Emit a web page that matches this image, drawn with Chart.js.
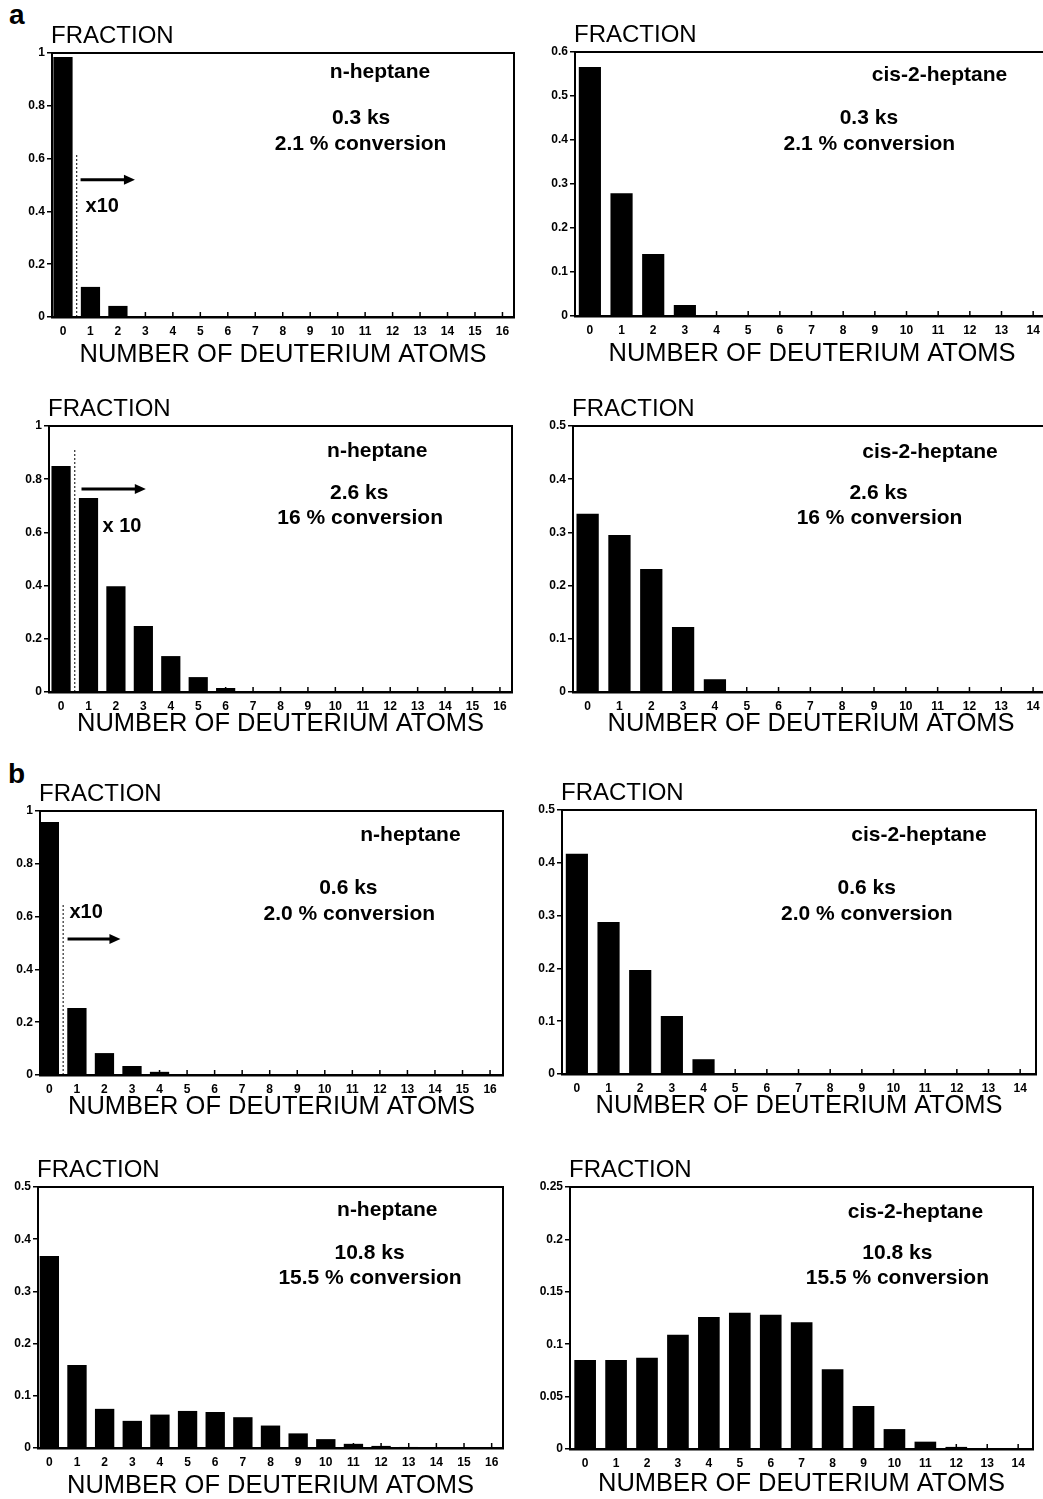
<!DOCTYPE html>
<html>
<head>
<meta charset="utf-8">
<script src="https://cdn.jsdelivr.net/npm/chart.js@4.4.1/dist/chart.umd.min.js"></script>
<style>
html, body { margin:0; padding:0; background:#fff; overflow:hidden; width:1043px; height:1499px; position:relative; }
canvas { position:absolute; }
.lbl { position:absolute; font:bold 28px "Liberation Sans", Arial, sans-serif; color:#000; line-height:28px; }
</style>
</head>
<body>
<div class="lbl" style="left:9px;top:1px">a</div>
<div class="lbl" style="left:8px;top:760px">b</div>
<script>
// ---------- data ----------
const atoms16 = ['0','1','2','3','4','5','6','7','8','9','10','11','12','13','14','15','16'];
const atoms14 = ['0','1','2','3','4','5','6','7','8','9','10','11','12','13','14'];

const aNHeptane03 = [0.985, 0.114, 0.042, 0, 0, 0, 0, 0, 0, 0, 0, 0, 0, 0, 0, 0, 0];
const aCis03      = [0.566, 0.279, 0.141, 0.025, 0, 0, 0, 0, 0, 0, 0, 0, 0, 0, 0];
const aNHeptane26 = [0.850, 0.729, 0.398, 0.248, 0.135, 0.056, 0.015, 0.002, 0, 0, 0, 0, 0, 0, 0, 0, 0];
const aCis26      = [0.335, 0.295, 0.231, 0.122, 0.024, 0, 0, 0, 0, 0, 0, 0, 0, 0, 0];
const bNHeptane06 = [0.958, 0.254, 0.083, 0.034, 0.012, 0, 0, 0, 0, 0, 0, 0, 0, 0, 0, 0, 0];
const bCis06      = [0.417, 0.288, 0.197, 0.110, 0.028, 0, 0, 0, 0, 0, 0, 0, 0, 0, 0];
const bNHeptane108 = [0.368, 0.159, 0.075, 0.052, 0.064, 0.071, 0.069, 0.059, 0.043, 0.028, 0.017, 0.008, 0.004, 0.002, 0, 0, 0];
const bCis108     = [0.085, 0.085, 0.087, 0.109, 0.126, 0.130, 0.128, 0.121, 0.076, 0.041, 0.019, 0.007, 0.002, 0.0005, 0];

const yMaxes = [1, 0.6, 1, 0.5, 1, 0.5, 0.5, 0.25];
const ySteps = [0.2, 0.1, 0.2, 0.1, 0.2, 0.1, 0.1, 0.05];

const compounds   = ['n-heptane', 'cis-2-heptane', 'n-heptane', 'cis-2-heptane', 'n-heptane', 'cis-2-heptane', 'n-heptane', 'cis-2-heptane'];
const times       = ['0.3 ks', '0.3 ks', '2.6 ks', '2.6 ks', '0.6 ks', '0.6 ks', '10.8 ks', '10.8 ks'];
const conversions = ['2.1 % conversion', '2.1 % conversion', '16 % conversion', '16 % conversion',
                     '2.0 % conversion', '2.0 % conversion', '15.5 % conversion', '15.5 % conversion'];
const scaleNotes  = ['x10', null, 'x 10', null, 'x10', null, null, null];

const yTitle = 'FRACTION';
const xTitle = 'NUMBER OF DEUTERIUM ATOMS';

// ---------- layout (pixels / fractions, not data) ----------
const FONT = '"Liberation Sans", Arial, Helvetica, sans-serif';
const YW = 50, PT = 40, XH = 62, PR = 6;

const layout = [
  { L:52,  T:53,  R:513.5, B:317, xMin:-0.40, xMax:16.42, tOff:38,
    txt:[[0.71,0.072],[0.669,0.246],[0.668,0.345]],
    mark:{ line:[0.5,0.62], arrow:[0.64,2.62,0.52], note:[0.82,0.418] } },
  { L:575, T:52,  R:1049,  B:316, xMin:-0.47, xMax:14.5, tOff:38,
    txt:[[0.769,0.087],[0.62,0.25],[0.621,0.348]] },
  { L:49,  T:426, R:512,   B:692, xMin:-0.44, xMax:16.44, tOff:32,
    txt:[[0.709,0.094],[0.67,0.252],[0.672,0.346]],
    mark:{ line:[0.5,0.91], arrow:[0.745,3.09,0.763], note:[1.51,0.624] } },
  { L:573, T:426, R:1049,  B:692, xMin:-0.46, xMax:14.5, tOff:32,
    txt:[[0.75,0.098],[0.642,0.252],[0.644,0.346]] },
  { L:40,  T:811, R:503,   B:1075, xMin:-0.34, xMax:16.47, tOff:32,
    txt:[[0.80,0.091],[0.666,0.292],[0.668,0.39]],
    mark:{ line:[0.5,0.65], arrow:[0.66,2.58,0.515], note:[0.73,0.617] } },
  { L:562, T:810, R:1036,  B:1074, xMin:-0.47, xMax:14.5, tOff:32,
    txt:[[0.753,0.095],[0.643,0.295],[0.643,0.394]] },
  { L:38,  T:1187, R:503,  B:1448, xMin:-0.41, xMax:16.41, tOff:38,
    txt:[[0.751,0.088],[0.713,0.253],[0.714,0.349]] },
  { L:569.5, T:1187, R:1032, B:1449, xMin:-0.49, xMax:14.48, tOff:35,
    txt:[[0.746,0.095],[0.707,0.252],[0.707,0.347]] }
];

const seriesList = [aNHeptane03, aCis03, aNHeptane26, aCis26, bNHeptane06, bCis06, bNHeptane108, bCis108];
const catList = [atoms16, atoms14, atoms16, atoms14, atoms16, atoms14, atoms16, atoms14];

// ---------- decoration plugin ----------
const decor = {
  id: 'decor',
  afterDatasetsDraw(chart, args, o) {
    const { ctx, chartArea: a, scales: { x, y } } = chart;
    const w = a.right - a.left, h = a.bottom - a.top;
    ctx.save();
    ctx.strokeStyle = '#000';
    ctx.fillStyle = '#000';
    // frame top and right
    ctx.lineWidth = 2;
    ctx.beginPath();
    ctx.moveTo(a.left, a.top);
    ctx.lineTo(a.right, a.top);
    ctx.lineTo(a.right, a.bottom);
    ctx.stroke();
    // inner x tick marks
    ctx.lineWidth = 1.5;
    x.ticks.forEach(t => {
      const px = x.getPixelForValue(t.value);
      ctx.beginPath();
      ctx.moveTo(px, a.bottom);
      ctx.lineTo(px, a.bottom - 5);
      ctx.stroke();
    });
    // y title
    ctx.font = '24px ' + FONT;
    ctx.textAlign = 'left';
    ctx.textBaseline = 'middle';
    ctx.fillText(o.yTitle, a.left - 1, a.top - 17);
    // inner labels
    ctx.font = 'bold 21px ' + FONT;
    ctx.textAlign = 'center';
    o.texts.forEach((s, i) => {
      const p = o.pos[i];
      ctx.fillText(s, a.left + p[0] * w, a.top + p[1] * h);
    });
    // x10 marker
    if (o.mark) {
      const m = o.mark;
      const lx = x.getPixelForValue(m.line[0]);
      ctx.lineWidth = 1;
      ctx.setLineDash([2, 2]);
      ctx.beginPath();
      ctx.moveTo(lx, y.getPixelForValue(0));
      ctx.lineTo(lx, y.getPixelForValue(m.line[1]));
      ctx.stroke();
      ctx.setLineDash([]);
      const ax0 = x.getPixelForValue(m.arrow[0]);
      const ax1 = x.getPixelForValue(m.arrow[1]);
      const ay = y.getPixelForValue(m.arrow[2]);
      ctx.lineWidth = 3;
      ctx.beginPath();
      ctx.moveTo(ax0, ay);
      ctx.lineTo(ax1 - 8, ay);
      ctx.stroke();
      ctx.beginPath();
      ctx.moveTo(ax1, ay);
      ctx.lineTo(ax1 - 11, ay - 5);
      ctx.lineTo(ax1 - 11, ay + 5);
      ctx.closePath();
      ctx.fill();
      ctx.font = 'bold 20px ' + FONT;
      ctx.textAlign = 'left';
      ctx.fillText(o.note, x.getPixelForValue(m.note[0]), y.getPixelForValue(m.note[1]));
    }
    ctx.restore();
  }
};

// ---------- build charts ----------
layout.forEach((p, k) => {
  const cv = document.createElement('canvas');
  const cw = Math.round(p.R - p.L + YW + PR);
  const ch = Math.round(p.B - p.T + PT + XH);
  cv.width = cw; cv.height = ch;
  cv.style.width = cw + 'px'; cv.style.height = ch + 'px';
  cv.style.left = (p.L - YW) + 'px';
  cv.style.top = (p.T - PT) + 'px';
  document.body.appendChild(cv);

  const cats = catList[k];
  const vals = seriesList[k];

  new Chart(cv, {
    type: 'bar',
    data: {
      datasets: [{
        data: vals.map((v, i) => ({ x: i, y: v })),
        backgroundColor: '#000',
        borderWidth: 0,
        barPercentage: 0.7,
        categoryPercentage: 1
      }]
    },
    plugins: [decor],
    options: {
      responsive: false,
      animation: false,
      devicePixelRatio: 1,
      layout: { padding: { top: PT, right: PR, left: 0, bottom: 0 } },
      plugins: {
        legend: { display: false },
        tooltip: { enabled: false },
        decor: {
          yTitle: yTitle,
          texts: [compounds[k], times[k], conversions[k]],
          pos: p.txt,
          mark: p.mark,
          note: scaleNotes[k]
        }
      },
      scales: {
        x: {
          type: 'linear',
          offset: false,
          min: p.xMin,
          max: p.xMax,
          afterFit: s => { s.height = XH; },
          afterBuildTicks: s => { s.ticks = cats.map((c, i) => ({ value: i })); },
          grid: { display: false, drawTicks: false, offset: false },
          border: { display: true, color: '#000', width: 2.5 },
          ticks: {
            stepSize: 1,
            includeBounds: false,
            autoSkip: false,
            maxRotation: 0,
            padding: 7,
            color: '#000',
            font: { family: FONT, size: 12, weight: 'bold' },
            callback: v => (cats[Math.round(v)] !== undefined ? cats[Math.round(v)] : '')
          },
          title: {
            display: true,
            text: xTitle,
            color: '#000',
            font: { family: FONT, size: 25.5, weight: 'normal', lineHeight: 1.2 },
            padding: { top: 0, bottom: XH - 15 - p.tOff }
          }
        },
        y: {
          min: 0,
          max: yMaxes[k],
          afterFit: s => { s.width = YW; },
          grid: { display: true, drawOnChartArea: false, drawTicks: true, tickLength: 5, color: '#000', lineWidth: 1.5 },
          border: { display: true, color: '#000', width: 2 },
          ticks: {
            stepSize: ySteps[k],
            padding: 2,
            color: '#000',
            font: { family: FONT, size: 12, weight: 'bold' },
            callback: v => String(+(+v).toFixed(2))
          }
        }
      }
    }
  });
});
</script>
</body>
</html>
